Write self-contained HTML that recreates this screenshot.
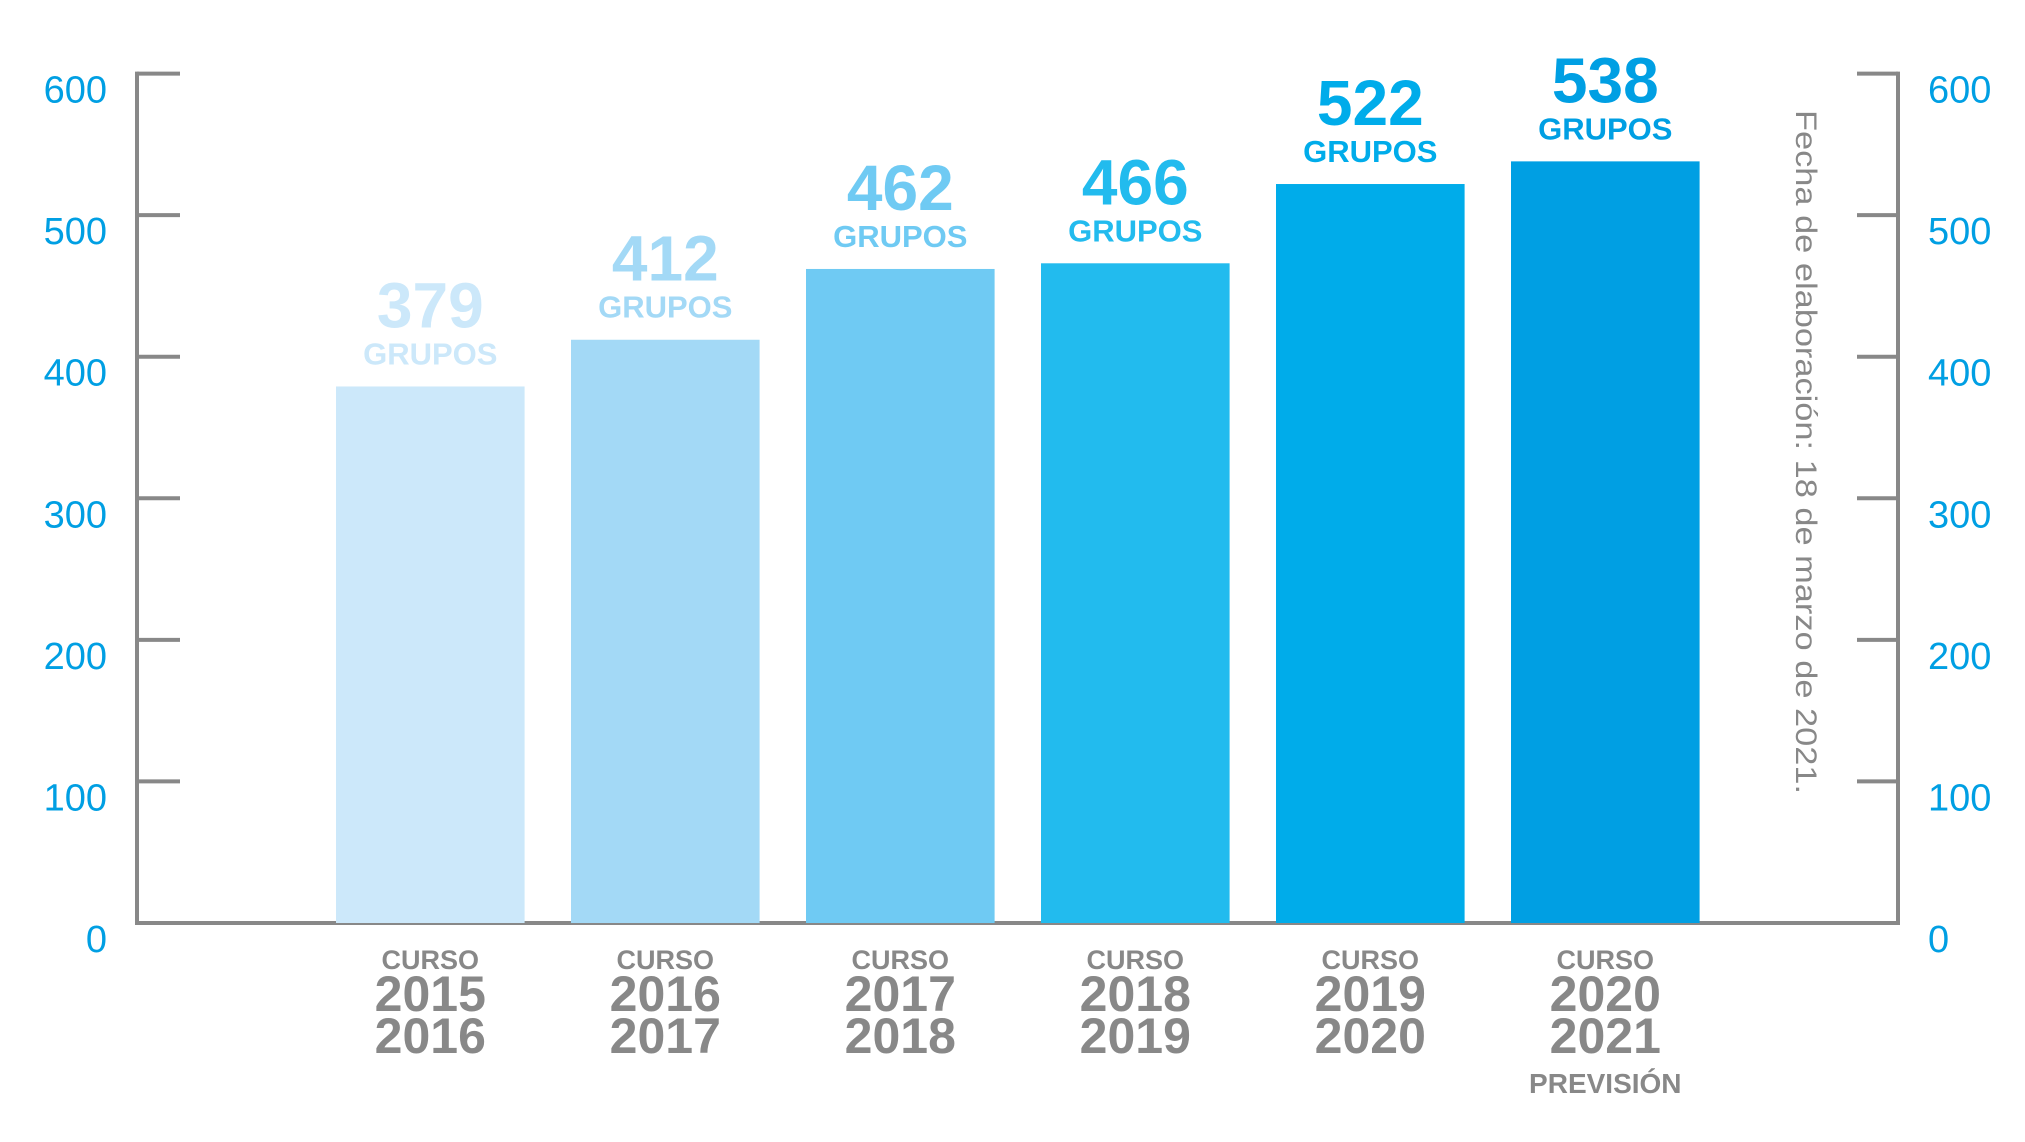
<!DOCTYPE html>
<html><head><meta charset="utf-8">
<style>
html,body{margin:0;padding:0;background:#fff;}
svg{display:block;}
.ax{font-family:"Liberation Sans",sans-serif;fill:#009fe3;font-size:38px;}
.nar{font-family:"Liberation Sans Narrow","Liberation Sans",sans-serif;font-weight:bold;}
</style></head>
<body>
<svg id="chart" width="2025" height="1142" viewBox="0 0 2025 1142" xmlns="http://www.w3.org/2000/svg">
<g id="axes"></g>
<g id="bars"></g>
<g id="labels"></g>
<text transform="translate(1796,110) rotate(90)" font-family="Liberation Sans, sans-serif" font-size="30" fill="#888" textLength="684" lengthAdjust="spacingAndGlyphs">Fecha de elaboración: 18 de marzo de 2021.</text>
</svg>
<script>
const categoriesA = ["2015","2016","2017","2018","2019","2020"];
const categoriesB = ["2016","2017","2018","2019","2020","2021"];
const values = [379,412,462,466,522,538];
const tickValues = [0,100,200,300,400,500,600];
const colors = ["#cce8fa","#a3d9f6","#6fcaf3","#22bbee","#00acea","#009fe3"];
const NS="http://www.w3.org/2000/svg";
const y0=923, pxPer=(923-73.6)/600;
function y(v){return y0-v*pxPer;}
function x(i){return 336+i*235;}
const bw=188.6;
function mk(tag,attrs,parent,txt){const e=document.createElementNS(NS,tag);for(const k in attrs)e.setAttribute(k,attrs[k]);if(txt!==undefined)e.textContent=txt;parent.appendChild(e);return e;}
const ax=document.getElementById('axes');
const gray="#888";
let e;
e=mk('line',{x1:137,y1:y(600)-2,x2:137,y2:y0+2,stroke:gray,'stroke-width':4},ax);


e=mk('line',{x1:1898,y1:y(600)-2,x2:1898,y2:y0+2,stroke:gray,'stroke-width':4},ax);


e=mk('line',{x1:135,y1:y0,x2:1900,y2:y0,stroke:gray,'stroke-width':4},ax);


tickValues.forEach(v=>{
  if(v>0){
    e=mk('line',{x1:137,y1:y(v),x2:180,y2:y(v),stroke:gray,'stroke-width':4},ax);
    
    
    e=mk('line',{x1:1857,y1:y(v),x2:1898,y2:y(v),stroke:gray,'stroke-width':4},ax);
    
    
  }
  e=mk('text',{x:107,y:y(v)+29,'text-anchor':'end',class:'ax'},ax,String(v));
  
  
  e=mk('text',{x:1928,y:y(v)+29,class:'ax'},ax,String(v));
  
  
});
const bg=document.getElementById('bars'), lg=document.getElementById('labels');
values.forEach((v,i)=>{
  e=mk('rect',{x:x(i),y:y(v),width:bw,height:y0-y(v),fill:colors[i]},bg);
  
  
  const cx=x(i)+bw/2;
  e=mk('text',{x:cx,y:y(v)-59,'text-anchor':'middle',class:'nar','font-size':64,fill:colors[i]},lg,String(v));
  
  
  e=mk('text',{x:cx,y:y(v)-22,'text-anchor':'middle',class:'nar','font-size':31,fill:colors[i]},lg,'GRUPOS');
  
  
  e=mk('text',{x:cx,y:969,'text-anchor':'middle',class:'nar','font-size':27,fill:gray},lg,'CURSO');
  
  
  e=mk('text',{x:cx,y:1011,'text-anchor':'middle',class:'nar','font-size':50,fill:gray},lg,categoriesA[i]);
  
  
  e=mk('text',{x:cx,y:1053,'text-anchor':'middle',class:'nar','font-size':50,fill:gray},lg,categoriesB[i]);
  
  
  if(i===values.length-1){
    e=mk('text',{x:cx,y:1093,'text-anchor':'middle',class:'nar','font-size':28,fill:gray},lg,'PREVISIÓN');
    
    
  }
});
</script>
</body></html>
